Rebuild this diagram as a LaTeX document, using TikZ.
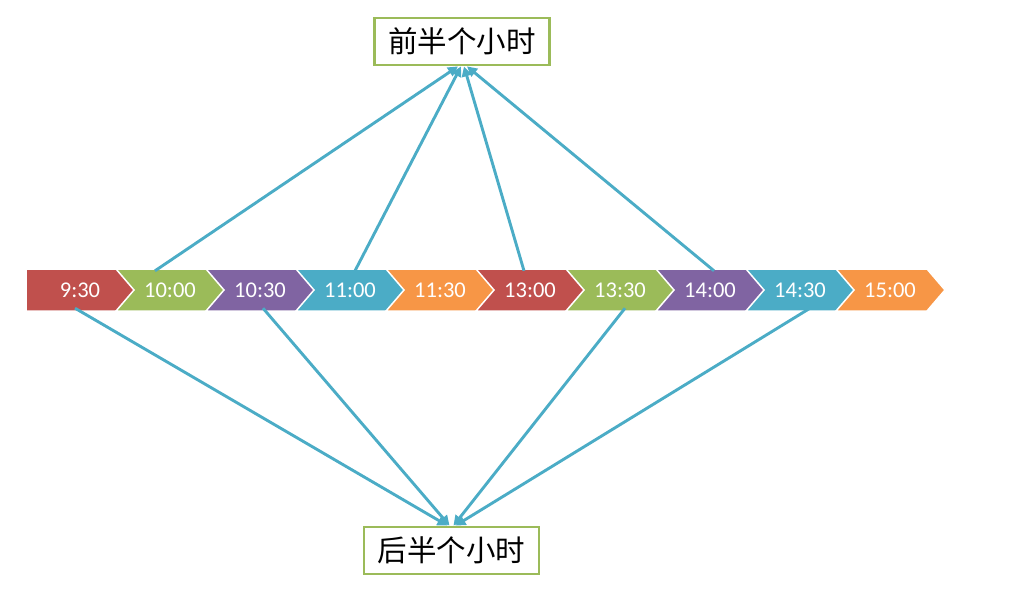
\documentclass[tikz,border=0pt]{standalone}
\usepackage{fontspec}
\setmainfont{Carlito}
\newfontfamily\cjk{Noto Sans CJK SC}
\usetikzlibrary{arrows.meta, positioning, calc}
\definecolor{cred}{HTML}{C0504D}
\definecolor{cgreen}{HTML}{9BBB59}
\definecolor{cpurple}{HTML}{8064A2}
\definecolor{cteal}{HTML}{4BACC6}
\definecolor{corange}{HTML}{F79646}

\tikzset{
    timelabel/.style={text=white, font=\fontsize{22.5}{26}\selectfont, inner sep=0pt, minimum height=42pt},
    halfbox/.style={draw=cgreen, line width=2.8pt, fill=white, font=\cjk\fontsize{29.5}{32}\selectfont, minimum width=175pt, minimum height=47pt, inner sep=0pt},
    link/.style={draw=cteal, line width=2.9pt, -{Triangle[length=10pt,width=10pt]}}
}

\begin{document}
\begin{tikzpicture}[x=1pt, y=-1pt]
    \useasboundingbox (0,0) rectangle (1011,603);

    % chevrons
    \foreach \i/\t/\c in {1/9:30/cred, 2/10:00/cgreen, 3/10:30/cpurple, 4/11:00/cteal, 5/11:30/corange,
                          6/13:00/cred, 7/13:30/cgreen, 8/14:00/cpurple, 9/14:30/cteal, 10/15:00/corange} {
        \pgfmathsetmacro{\xo}{26+90*(\i-1)}
        \ifnum\i=1
            \fill[\c, draw=white, line width=1.5pt] (\xo,269) -- ++(91,0) -- ++(18,21) -- ++(-18,21) -- ++(-91,0) -- cycle;
        \else
            \fill[\c, draw=white, line width=1.5pt] (\xo,269) -- ++(91,0) -- ++(18,21) -- ++(-18,21) -- ++(-91,0) -- ++(18,-21) -- cycle;
        \fi
        \node[timelabel] (t\i) at (\xo+54,290) {\t};
    }

    \node[halfbox] (top) at (462,41.5) {前半个小时};
    \node[halfbox] (bot) at (451.5,550.5) {后半个小时};

    % upper arrows
    \foreach \i/\s/\e in {2/-15/-4, 4/5/-1, 6/-6/2, 8/4/5} {
        \draw[link] ([xshift=\s pt, yshift=-2pt]t\i.north) -- ([xshift=\e pt]top.south);
    }
    % lower arrows
    \foreach \i/\s/\e in {1/-5/-4, 3/3/-2, 7/5/2, 9/10/4} {
        \draw[link] ([xshift=\s pt, yshift=3pt]t\i.south) -- ([xshift=\e pt]bot.north);
    }
\end{tikzpicture}
\end{document}
